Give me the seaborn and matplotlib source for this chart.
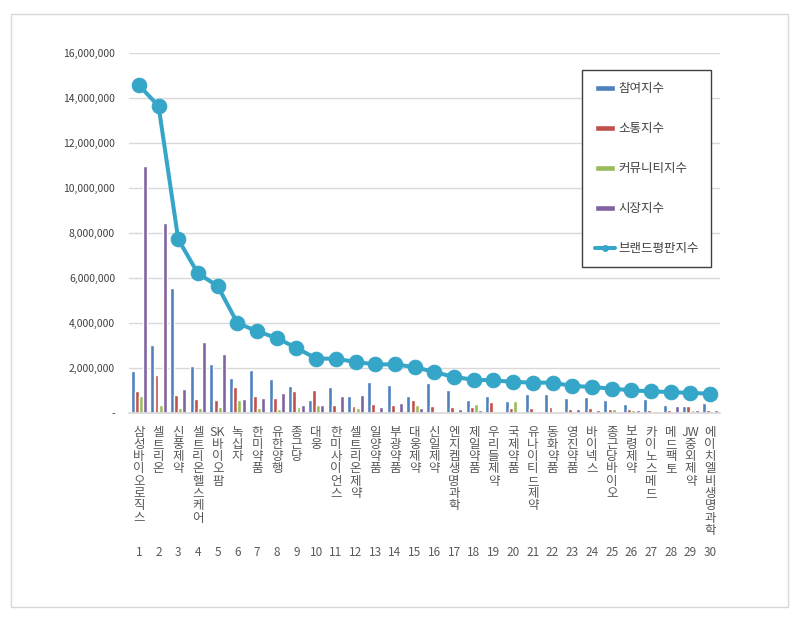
import numpy as np
import pandas as pd
import seaborn as sns
import matplotlib.pyplot as plt
from matplotlib.ticker import FuncFormatter
from matplotlib.patches import Rectangle

# brand reputation data, top 30
names = ["삼성바이오로직스", "셀트리온", "신풍제약", "셀트리온헬스케어", "SK바이오팜",
         "녹십자", "한미약품", "유한양행", "종근당", "대웅",
         "한미사이언스", "셀트리온제약", "일양약품", "부광약품", "대웅제약",
         "신일제약", "엔지켐생명과학", "제일약품", "우리들제약", "국제약품",
         "유나이티드제약", "동화약품", "영진약품", "바이넥스", "종근당바이오",
         "보령제약", "카이노스메드", "메드팩토", "JW중외제약", "에이치엘비생명과학"]
ranks = list(range(1, 31))

participation = [1850000, 3040000, 5530000, 2090000, 2160000, 1560000, 1900000, 1510000, 1190000, 590000,
                 1160000, 770000, 1380000, 1230000, 770000, 1330000, 1000000, 560000, 740000, 520000,
                 830000, 830000, 650000, 700000, 590000, 410000, 640000, 340000, 330000, 440000]
communication = [960000, 1700000, 810000, 640000, 560000, 1160000, 740000, 670000, 960000, 1040000,
                 340000, 330000, 410000, 340000, 560000, 300000, 270000, 250000, 490000, 220000,
                 240000, 270000, 180000, 220000, 190000, 160000, 120000, 120000, 300000, 120000]
community = [740000, 370000, 220000, 220000, 270000, 560000, 220000, 190000, 270000, 340000,
             40000, 240000, 70000, 70000, 340000, 40000, 30000, 390000, 70000, 530000,
             60000, 40000, 30000, 30000, 160000, 150000, 30000, 30000, 120000, 30000]
market = [10960000, 8440000, 1050000, 3160000, 2610000, 640000, 670000, 890000, 370000, 370000,
          740000, 810000, 250000, 440000, 240000, 30000, 180000, 120000, 30000, 40000,
          100000, 60000, 180000, 120000, 40000, 120000, 70000, 330000, 120000, 150000]
brand = [14560000, 13630000, 7710000, 6200000, 5640000, 4000000, 3630000, 3330000, 2890000, 2420000,
         2410000, 2270000, 2160000, 2160000, 2040000, 1820000, 1600000, 1480000, 1450000, 1380000,
         1350000, 1350000, 1200000, 1160000, 1080000, 1010000, 960000, 930000, 890000, 860000]

series_names = ["참여지수", "소통지수", "커뮤니티지수", "시장지수"]
bar_colors = ["#4F81BD", "#C0504D", "#9BBB59", "#8064A2"]
line_color = "#35A5C8"

df = pd.DataFrame({"name": names, "참여지수": participation, "소통지수": communication,
                   "커뮤니티지수": community, "시장지수": market})
long_df = df.melt(id_vars="name", var_name="지수", value_name="값")
line_df = pd.DataFrame({"pos": np.arange(len(names)), "brand": brand})

sns.set_theme(style="white")
plt.rcParams["font.family"] = ["Noto Sans CJK KR", "DejaVu Sans"]

fig = plt.figure(figsize=(8, 6.17), dpi=100)
ax = fig.add_axes([0.16125, 0.3306, 0.73875, 0.584])

sns.barplot(data=long_df, x="name", y="값", hue="지수", order=names,
            hue_order=series_names, palette=bar_colors, saturation=1,
            width=0.84, gap=0.05, ax=ax, zorder=2)
sns.lineplot(data=line_df, x="pos", y="brand", color=line_color, linewidth=2.9,
             marker="o", markersize=10.5, markeredgecolor=line_color,
             label="브랜드평판지수", ax=ax, zorder=3)

ax.set_xlim(-0.5, len(names) - 0.5)
ax.set_ylim(0, 16000000)
ax.set_yticks(np.arange(0, 16000001, 2000000))
ax.yaxis.set_major_formatter(FuncFormatter(lambda v, p: "-" if v == 0 else f"{int(v):,}"))
ax.grid(axis="y", color="#D9D9D9", linewidth=1, zorder=0)
ax.set_axisbelow(True)
for s in ["top", "right", "left"]:
    ax.spines[s].set_visible(False)
ax.spines["bottom"].set_color("#D9D9D9")
ax.set_xlabel("")
ax.set_ylabel("")
ax.tick_params(axis="y", length=0, pad=10, labelsize=7.5, labelcolor="#404040")


def stack(label):
    out, buf = [], ""
    for ch in label:
        if ch.isascii():
            buf += ch
        else:
            if buf:
                out.append(buf)
                buf = ""
            out.append(ch)
    if buf:
        out.append(buf)
    return "\n".join(out)


ax.set_xticks(range(len(names)))
ax.set_xticklabels([stack(n) for n in names], fontsize=9, color="#595959", linespacing=0.93)
ax.tick_params(axis="x", which="major", length=0, pad=9)
ax.set_xticks(np.arange(-0.5, len(names), 1), minor=True)
ax.tick_params(axis="x", which="minor", length=107, width=0.8, color="#D9D9D9", direction="out")

sec = ax.secondary_xaxis("bottom")
sec.set_xticks(range(len(names)))
sec.set_xticklabels([str(r) for r in ranks], fontsize=8.5, color="#595959")
sec.tick_params(length=0, pad=96)
sec.spines["bottom"].set_visible(False)

handles, labels = ax.get_legend_handles_labels()
ax.legend(handles, labels, loc="upper left", bbox_to_anchor=(0.7665, 0.952),
          borderaxespad=0, frameon=True, fancybox=False, edgecolor="#404040",
          facecolor="white", fontsize=9, labelspacing=2.15, borderpad=1.0,
          handlelength=1.6, handleheight=0.35, handletextpad=0.3, markerscale=0.4,
          labelcolor="#404040", framealpha=1)
ax.get_legend().get_frame().set_linewidth(1.0)

fig.patches.append(Rectangle((11 / 800, 10 / 617), 777 / 800, 593 / 617,
                             transform=fig.transFigure, fill=False,
                             edgecolor="#D9D9D9", linewidth=1))

fig.savefig("out.png", dpi=100)
